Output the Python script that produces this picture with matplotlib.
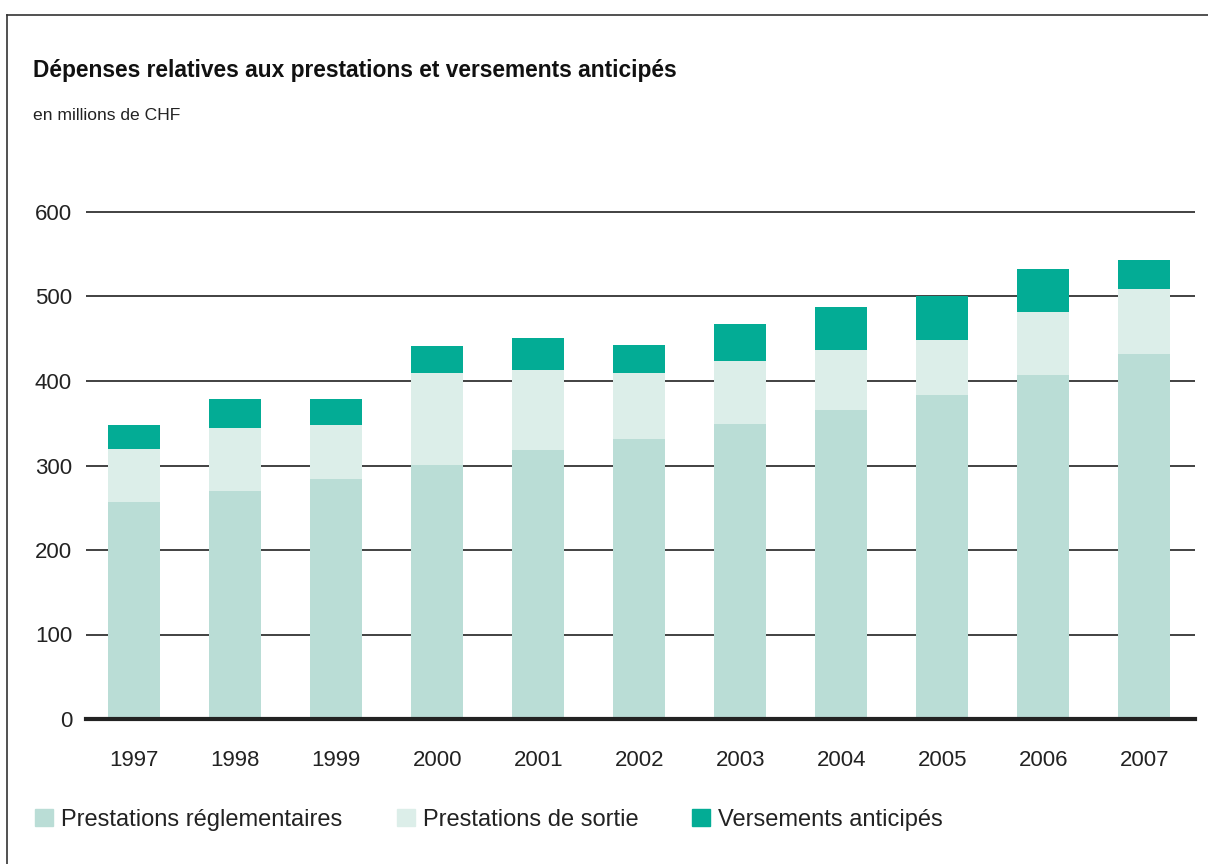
import matplotlib
matplotlib.use("Agg")
import matplotlib.pyplot as plt
import numpy as np
from matplotlib.lines import Line2D
from matplotlib.patches import Patch

plt.rcParams['font.family'] = ['Liberation Sans', 'DejaVu Sans']

# données (millions de CHF)
annees = ['1997', '1998', '1999', '2000', '2001', '2002', '2003', '2004', '2005', '2006', '2007']
reglementaires = [257, 270, 284, 301, 318, 331, 349, 366, 383, 407, 432]
sortie = [63, 74, 64, 109, 95, 78, 75, 71, 65, 75, 77]
anticipes = [28, 35, 31, 31, 38, 34, 44, 51, 52, 51, 34]

c_regl = '#BADDD6'
c_sortie = '#DCEEE9'
c_antic = '#03AC95'

fig = plt.figure(figsize=(12.08, 8.64), dpi=100)
# 0 -> y=719 px, 600 -> y=212 px ; un peu de marge en haut pour la ligne 600
ax = fig.add_axes([86 / 1208, 145 / 864, 1109 / 1208, 507 * 610 / 600 / 864])

x = np.arange(len(annees))
bas2 = np.array(reglementaires)
bas3 = bas2 + np.array(sortie)
w = 0.515
ax.bar(x, reglementaires, w, color=c_regl, zorder=2)
ax.bar(x, sortie, w, bottom=bas2, color=c_sortie, zorder=2)
ax.bar(x, anticipes, w, bottom=bas3, color=c_antic, zorder=2)

ax.set_xlim(-0.475, 10.5)
ax.set_ylim(0, 610)
ax.set_yticks([0, 100, 200, 300, 400, 500, 600])
ax.set_xticks(x)
ax.set_xticklabels(annees)
ax.yaxis.grid(True, color='#333333', lw=1.3, zorder=1)
ax.axhline(0, color='#222222', lw=3, zorder=3, clip_on=False)
for s in ax.spines.values():
    s.set_visible(False)
ax.tick_params(axis='both', length=0, labelsize=16, colors='#222222')
ax.tick_params(axis='y', pad=10)
ax.tick_params(axis='x', pad=22)

fig.text(33 / 1208, 1 - 70 / 864, 'Dépenses relatives aux prestations et versements anticipés',
         fontsize=16.4, fontweight='bold', va='center', ha='left', color='#111111')
fig.text(33 / 1208, 1 - 115 / 864, 'en millions de CHF',
         fontsize=12.6, va='center', ha='left', color='#222222')

# cadre
fig.add_artist(Line2D([7 / 1208, 7 / 1208], [0, 1 - 15 / 864], color='#333333', lw=1.2))
fig.add_artist(Line2D([7 / 1208, 1], [1 - 15 / 864, 1 - 15 / 864], color='#333333', lw=1.2))

handles = [Patch(color=c_regl), Patch(color=c_sortie), Patch(color=c_antic)]
labels = ['Prestations réglementaires', 'Prestations de sortie', 'Versements anticipés']
fig.legend(handles, labels, loc='center left', bbox_to_anchor=(26 / 1208, 1 - 820 / 864),
           ncol=3, frameon=False, fontsize=17, handlelength=0.76, handleheight=0.76,
           handletextpad=0.34, columnspacing=2.29, borderaxespad=0, labelcolor='#222222')

fig.savefig('out.png', dpi=100)
